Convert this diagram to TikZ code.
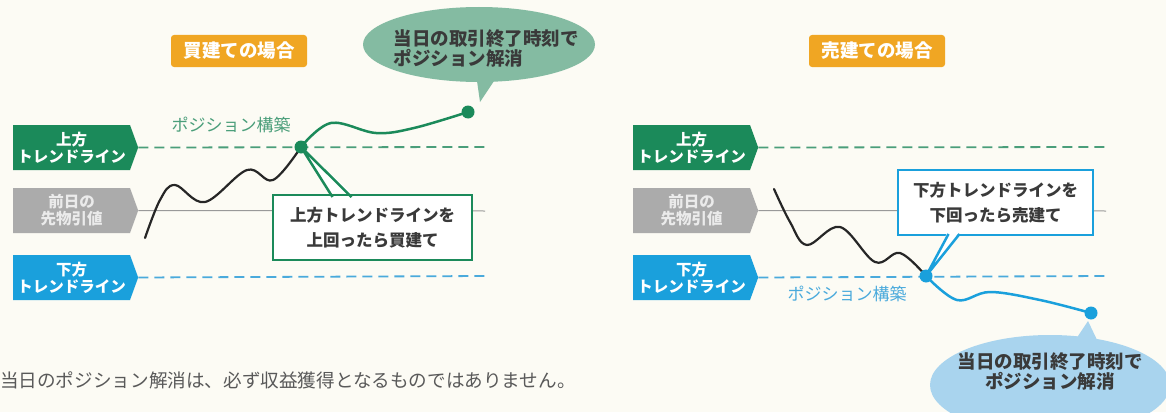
\documentclass[tikz,border=0pt]{standalone}
\usepackage{fontspec}
\setmainfont{Noto Sans CJK JP}
\usetikzlibrary{shapes.geometric,shapes.symbols}
\definecolor{bg}{HTML}{FCFBF4}
\definecolor{tgreen}{HTML}{1B8A5A}
\definecolor{lgreen}{HTML}{4A9E7A}
\definecolor{egreen}{HTML}{84BBA2}
\definecolor{orng}{HTML}{F0A623}
\definecolor{tgray}{HTML}{ABABAB}
\definecolor{tblue}{HTML}{1AA0DC}
\definecolor{lblue}{HTML}{4AAADC}
\definecolor{eblue}{HTML}{A9D4EE}
\definecolor{txt}{HTML}{3A3A3A}
\tikzset{
  tagbox/.style={signal, signal to=east, signal pointer angle=140, minimum width=125pt, minimum height=45pt, inner sep=0pt, text=white, align=center, font=\fontsize{15.5}{17}\selectfont\bfseries, anchor=west},
  orangebox/.style={rectangle, rounded corners=3pt, fill=orng, text=white, minimum width=136pt, minimum height=32pt, font=\fontsize{18.5}{20}\selectfont\bfseries},
  dashline/.style={line width=1.8pt, dash pattern=on 10pt off 6pt},
  midline/.style={line width=1pt, color=black!40},
  dotnode/.style={circle, inner sep=0pt, minimum size=13pt},
  callbox/.style={rectangle, fill=white, line width=2.5pt, inner sep=0pt, align=center, text=txt, font=\fontsize{16.5}{25}\selectfont\bfseries},
  ellnode/.style={ellipse, inner sep=0pt},
  elltext/.style={text=txt, font=\fontsize{18.5}{20}\selectfont\bfseries, inner sep=0pt},
  poslabel/.style={font=\fontsize{17}{18}\selectfont, inner sep=0pt},
  pricecurve/.style={line width=2.2pt, black!85, line cap=round, line join=round},
}
\begin{document}
\begin{tikzpicture}[x=1pt,y=-1pt]
\useasboundingbox (0,0) rectangle (1166,412);
\clip (0,0) rectangle (1166,412);
\fill[bg] (0,0) rectangle (1166,412);

% ---------------- left panel ----------------
\node[orangebox] (labL) at (239,51) {買建ての場合};

\node[tagbox, fill=tgreen] (tagLU) at (13,147.5) {上方\\トレンドライン};
\node[tagbox, fill=tgray, text=white!92!black] (tagLM) at (13,210.5) {前日の\\先物引値};
\node[tagbox, fill=tblue] (tagLD) at (13,277.5) {下方\\トレンドライン};

\coordinate (eLU) at (485,147);
\coordinate (eLM) at (485,211);
\coordinate (eLD) at (485,276);
\draw[dashline, lgreen] (tagLU.east) -- (eLU);
\draw[midline] (tagLM.east) -- (eLM);
\draw[dashline, lblue] (tagLD.east) -- (eLD);

\node[dotnode] (dotL) at (301,147) {};
\node[dotnode] (dotLE) at (468,112) {};

\draw[pricecurve] plot[smooth, tension=0.6] coordinates {(145,238) (160,200) (175,185) (205,202) (247,170) (273,180) (dotL.center)};
\draw[line width=2.5pt, tgreen, line cap=round] plot[smooth, tension=0.6] coordinates {(dotL.center) (331,123) (376,133) (414,128) (dotLE.center)};

\node[poslabel, text=lgreen] (posL) at (231,125) {ポジション構築};

% callout box left
\node[callbox, draw=tgreen, minimum width=199pt, minimum height=65pt] (boxL) at (372.5,227.5) {上方トレンドラインを\\上回ったら買建て};
\fill[white] (332,193) -- (dotL.center) -- (352,193) -- cycle;
\draw[tgreen, line width=2.5pt, line join=round] (332.5,197) -- (dotL.center) -- (351.5,197);

% ellipse left
\node[ellnode, fill=egreen, minimum width=232pt, minimum height=75pt] (ellL) at (479,44.5) {};
\fill[egreen] (476,74) -- (480,102) -- (500,72) -- cycle;
\node[elltext, align=left] (ellLt) at (486,48) {当日の取引終了時刻で\\ポジション解消};

\fill[tgreen] (dotL) circle (6.5pt);
\fill[tgreen] (dotLE) circle (6.5pt);

% ---------------- right panel ----------------
\node[orangebox] (labR) at (877,51) {売建ての場合};

\node[tagbox, fill=tgreen] (tagRU) at (633,147.5) {上方\\トレンドライン};
\node[tagbox, fill=tgray, text=white!92!black] (tagRM) at (633,210.5) {前日の\\先物引値};
\node[tagbox, fill=tblue] (tagRD) at (633,277.5) {下方\\トレンドライン};

\coordinate (eRU) at (1106,147);
\coordinate (eRM) at (1106,211);
\coordinate (eRD) at (1106,276);
\draw[dashline, lgreen] (tagRU.east) -- (eRU);
\draw[midline] (tagRM.east) -- (eRM);
\draw[dashline, lblue] (tagRD.east) -- (eRD);

\node[dotnode] (dotR) at (926,276) {};
\node[dotnode] (dotRE) at (1091,313) {};

\draw[pricecurve] plot[smooth, tension=0.6] coordinates {(774,189) (790,222) (807,245) (840,227) (875,262) (900,253) (dotR.center)};
\draw[line width=2.5pt, tblue, line cap=round] plot[smooth, tension=0.6] coordinates {(dotR.center) (957,300) (990,292) (1040,300) (dotRE.center)};

\node[poslabel, text=lblue] (posR) at (847,294) {ポジション構築};

% callout box right
\node[callbox, draw=tblue, minimum width=195pt, minimum height=65pt] (boxR) at (995.5,202.5) {下方トレンドラインを\\下回ったら売建て};
\fill[white] (948,231) -- (dotR.center) -- (960,231) -- cycle;
\draw[tblue, line width=2.5pt, line join=round] (948.5,234) -- (dotR.center) -- (959.5,234);

% ellipse right
\node[ellnode, fill=eblue, minimum width=240pt, minimum height=100pt] (ellR) at (1050,385) {};
\fill[eblue] (1072,345) -- (1088,321) -- (1098,342) -- cycle;
\node[elltext, align=center] (ellRt) at (1050,371) {当日の取引終了時刻で\\ポジション解消};

\fill[tblue] (dotR) circle (6.5pt);
\fill[tblue] (dotRE) circle (6.5pt);

% footer
\node[anchor=west, inner sep=0pt, text=black!65, font=\fontsize{18.6}{20}\selectfont] (foot) at (0,380) {当日のポジション解消は、必ず収益獲得となるものではありません。};
\end{tikzpicture}
\end{document}
